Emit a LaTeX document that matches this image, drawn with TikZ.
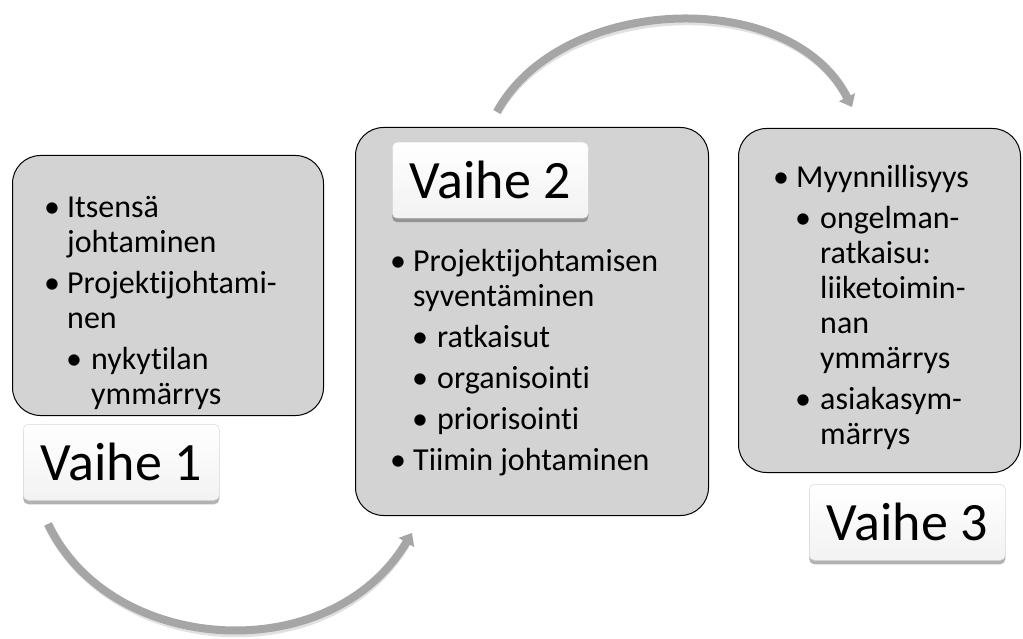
\documentclass[tikz,border=0pt]{standalone}
\usepackage{fontspec}
\setmainfont{Carlito}[Ligatures={TeX,NoCommon}]
\usetikzlibrary{arrows.meta,shadows}
\definecolor{boxgray}{HTML}{D3D3D3}
\definecolor{arrowgray}{HTML}{A6A6A6}
\newcommand\bA{\makebox[21pt][l]{\hspace*{-2pt}\textbullet}}
\newcommand\cA{\hspace*{21pt}}
\newcommand\bB{\hspace*{21pt}\makebox[24pt][l]{\hspace*{-1pt}\textbullet}}
\newcommand\cB{\hspace*{45pt}}
\tikzset{
  phasebox/.style={draw=black, line width=1pt, fill=boxgray, rounded corners=28pt,
    anchor=north west, inner sep=0pt},
  labelbox/.style={draw=gray!30, line width=0.5pt, top color=white, bottom color=gray!10,
    rounded corners=5pt, anchor=north west, inner sep=0pt,
    minimum width=196pt, minimum height=76pt,
    font=\fontsize{54}{60}\selectfont,
    drop shadow={shadow xshift=0pt, shadow yshift=-4pt, opacity=0.3, fill=black}},
  listtext/.style={anchor=base west, inner sep=0pt, font=\fontsize{32}{35}\selectfont},
  flow/.style={draw=arrowgray, line width=8pt, -{Triangle[length=11pt,width=17pt]}},
  flowshadow/.style={draw=black, opacity=0.12, line width=9pt, -{Triangle[length=11pt,width=18pt]}},
}
\begin{document}
\begin{tikzpicture}[x=1pt,y=-1pt]
\useasboundingbox (0,0) rectangle (1023,639);
% arrow end points
\coordinate (a1s) at (48,524);
\coordinate (a1e) at (412,533);
\coordinate (a2s) at (497,112);
\coordinate (a2e) at (852,107);
% arrow shadows
\begin{scope}[shift={(2,3)}]
\draw[flowshadow] (a1s) .. controls (110,655) and (330,670) .. (a1e);
\draw[flowshadow] (a2s) .. controls (560,-5) and (790,-15) .. (a2e);
\end{scope}
\draw[flow] (a1s) .. controls (110,655) and (330,670) .. (a1e);
\draw[flow] (a2s) .. controls (560,-5) and (790,-15) .. (a2e);
% phase boxes
\node[phasebox, minimum width=311pt, minimum height=260pt] (b1) at (12,155) {};
\node[phasebox, minimum width=353pt, minimum height=388pt] (b2) at (355,127) {};
\node[phasebox, minimum width=282pt, minimum height=344pt] (b3) at (738,128) {};
% labels
\node[labelbox] (v1) at (23,424) {Vaihe 1};
\node[labelbox] (v2) at (392,142) {Vaihe 2};
\node[labelbox] (v3) at (809,484) {Vaihe 3};
% texts
\node[listtext] (t1) at (46,218) {\begin{tabular}[t]{@{}l@{}}
\bA Itsensä\\
\cA johtaminen\\[6pt]
\bA Projektijohtami-\\
\cA nen\\[6pt]
\bB nykytilan\\
\cB ymmärrys
\end{tabular}};
\node[listtext] (t2) at (392,272) {\begin{tabular}[t]{@{}l@{}}
\bA Projektijohtamisen\\
\cA syventäminen\\[6pt]
\bB ratkaisut\\[6pt]
\bB organisointi\\[6pt]
\bB priorisointi\\[6pt]
\bA Tiimin johtaminen
\end{tabular}};
\node[listtext] (t3) at (775,188) {\begin{tabular}[t]{@{}l@{}}
\bA Myynnillisyys\\[6pt]
\bB ongelman-\\
\cB ratkaisu:\\
\cB liiketoimin-\\
\cB nan\\
\cB ymmärrys\\[6pt]
\bB asiakasym-\\
\cB märrys
\end{tabular}};
\end{tikzpicture}
\end{document}
